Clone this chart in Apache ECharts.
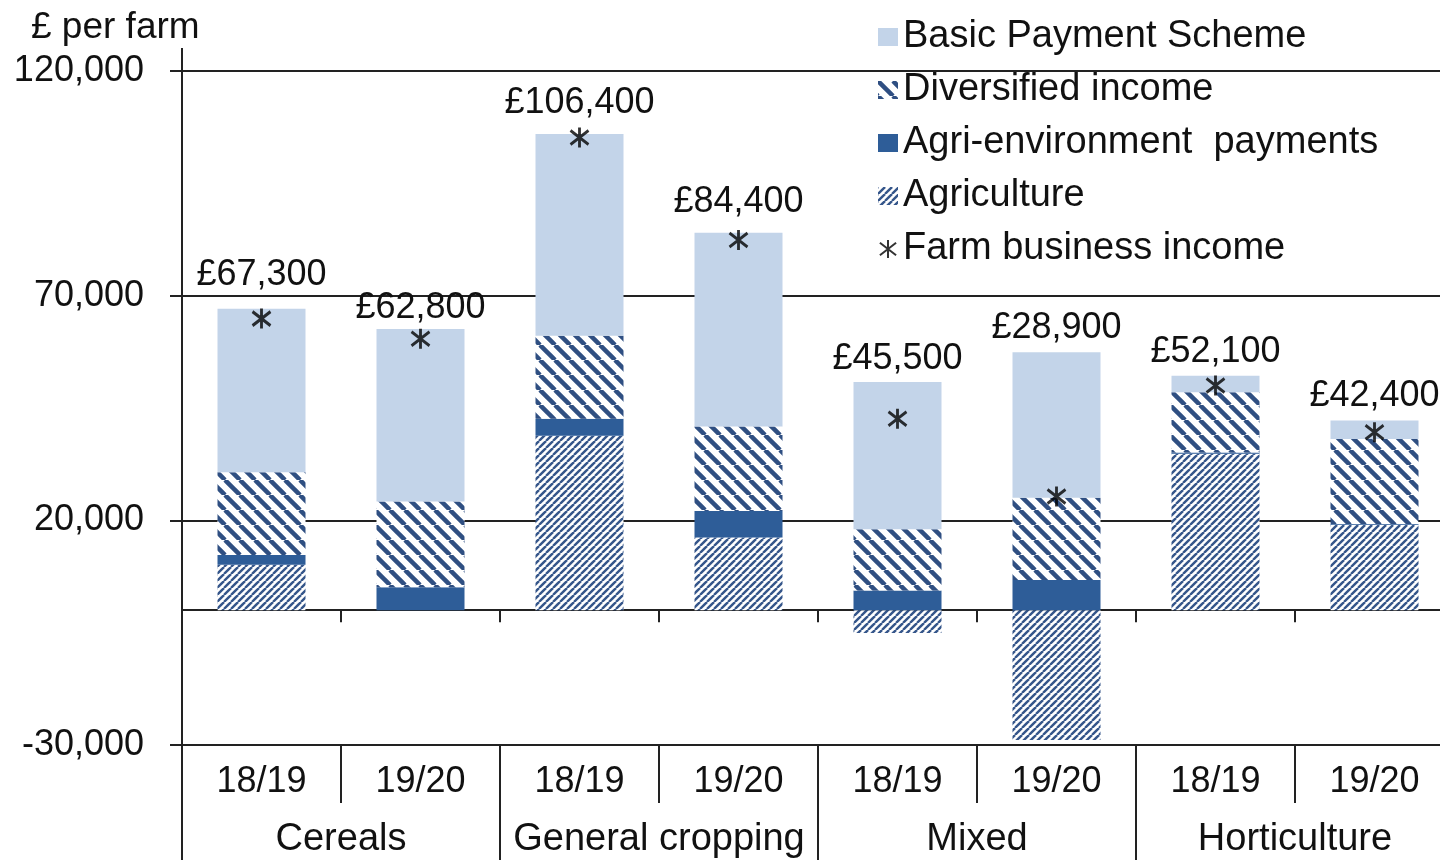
<!DOCTYPE html>
<html>
<head>
<meta charset="utf-8">
<title>Farm business income per farm</title>
<script src="https://cdn.jsdelivr.net/npm/echarts@6/dist/echarts.min.js"></script>
<style>
  html, body { margin: 0; padding: 0; background: #fff; }
  #chart { width: 1440px; height: 860px; }
</style>
</head>
<body>
<div id="chart"></div>
<script>
var years = ['18/19', '19/20', '18/19', '19/20', '18/19', '19/20', '18/19', '19/20'];
var farmTypes = ['Cereals', 'General cropping', 'Mixed', 'Horticulture'];

// £ per farm
var agriculture = [10100, 0, 38800, 16200, -5100, -28900, 34800, 19000];
var agriEnvironment = [2200, 5100, 3800, 5900, 4400, 6700, 300, 200];
var diversified = [18400, 19100, 18500, 18800, 13600, 18300, 13400, 18900];
var basicPayment = [36400, 38400, 44900, 43100, 32800, 32400, 3700, 4100];
var fbiPoints = [64900, 60400, 105200, 82400, 42600, 25300, 50000, 39600];
var fbiLabels = ['£67,300', '£62,800', '£106,400', '£84,400', '£45,500', '£28,900', '£52,100', '£42,400'];

// gap between bar top and its label (px)
var labelLift = [16, 3, 13, 13, 5, 6, 6, 7];

var FONT = '"Liberation Sans", Arial, sans-serif';
var INK = '#111111';

// diagonal stripe tile: 'back' = \\\ , otherwise ///
function stripes(size, width, color, dir) {
  var c = document.createElement('canvas');
  c.width = size;
  c.height = size;
  var ctx = c.getContext('2d');
  ctx.fillStyle = '#ffffff';
  ctx.fillRect(0, 0, size, size);
  ctx.strokeStyle = color;
  ctx.lineWidth = width;
  for (var k = -1; k <= 1; k++) {
    ctx.beginPath();
    if (dir === 'back') {
      ctx.moveTo(k * size, 0);
      ctx.lineTo(k * size + size, size);
    } else {
      ctx.moveTo(k * size, size);
      ctx.lineTo(k * size + size, 0);
    }
    ctx.stroke();
  }
  return c;
}

var wideStripe = stripes(15, 4.5, '#2f4f82', 'back');
var fineHatch = stripes(7, 2.4, '#34558a', 'fwd');

var chart = echarts.init(document.getElementById('chart'));

var axisInk = { color: '#222', width: 2 };

var option = {
  animation: false,
  backgroundColor: '#ffffff',
  textStyle: { fontFamily: FONT, color: INK },
  title: {
    text: '£ per farm',
    left: 26,
    top: 4,
    textStyle: { fontFamily: FONT, fontSize: 37, fontWeight: 'normal', color: INK }
  },
  legend: {
    orient: 'vertical',
    left: 873,
    top: 13,
    itemWidth: 20,
    itemHeight: 18,
    itemGap: 15,
    textStyle: { fontFamily: FONT, fontSize: 38, color: INK },
    data: [
      { name: 'Basic Payment Scheme', icon: 'rect' },
      { name: 'Diversified income', icon: 'rect' },
      { name: 'Agri-environment  payments', icon: 'rect' },
      { name: 'Agriculture', icon: 'rect' },
      { name: 'Farm business income' }
    ]
  },
  grid: {
    left: 182,
    right: -14,
    top: 71,
    bottom: 115,
    containLabel: false,
    outerBoundsMode: 'none'
  },
  xAxis: [
    {
      type: 'category',
      data: years,
      position: 'bottom',
      axisLine: { onZero: true, lineStyle: axisInk },
      axisTick: { show: true, interval: 0, length: 12, lineStyle: axisInk },
      axisLabel: { show: false },
      splitLine: { show: false }
    },
    {
      type: 'category',
      data: years,
      position: 'bottom',
      axisLine: { show: false, onZero: false },
      axisTick: { show: true, interval: 0, length: 58, lineStyle: axisInk },
      axisLabel: { interval: 0, margin: 19, fontSize: 36, color: INK, fontFamily: FONT },
      splitLine: { show: false }
    },
    {
      type: 'category',
      data: farmTypes,
      position: 'bottom',
      axisLine: { show: false, onZero: false },
      axisTick: { show: true, interval: 0, length: 116, lineStyle: axisInk },
      axisLabel: { interval: 0, margin: 76, fontSize: 38, color: INK, fontFamily: FONT },
      splitLine: { show: false }
    }
  ],
  yAxis: {
    type: 'value',
    min: -30000,
    max: 120000,
    interval: 50000,
    axisLine: { show: true, lineStyle: axisInk },
    axisTick: { show: true, length: 12, lineStyle: axisInk },
    axisLabel: {
      margin: 38,
      fontSize: 36,
      color: INK,
      fontFamily: FONT,
      formatter: function (v) { return v.toLocaleString('en-GB'); }
    },
    splitLine: { show: true, lineStyle: axisInk }
  },
  graphic: [
    {
      type: 'line',
      shape: { x1: 182, y1: 48, x2: 182, y2: 71 },
      style: { stroke: '#222', lineWidth: 2 }
    }
  ],
  series: [
    {
      name: 'Agriculture',
      type: 'bar',
      stack: 'fbi',
      barWidth: 88,
      data: agriculture,
      itemStyle: { color: { image: fineHatch, repeat: 'repeat' } }
    },
    {
      name: 'Agri-environment  payments',
      type: 'bar',
      stack: 'fbi',
      barWidth: 88,
      data: agriEnvironment,
      itemStyle: { color: '#2e5d98' }
    },
    {
      name: 'Diversified income',
      type: 'bar',
      stack: 'fbi',
      barWidth: 88,
      data: diversified,
      itemStyle: { color: { image: wideStripe, repeat: 'repeat' } }
    },
    {
      name: 'Basic Payment Scheme',
      type: 'bar',
      stack: 'fbi',
      barWidth: 88,
      data: basicPayment.map(function (v, i) {
        return { value: v, label: { distance: labelLift[i] } };
      }),
      itemStyle: { color: '#c3d4e9' },
      label: {
        show: true,
        position: 'top',
        fontSize: 36,
        color: INK,
        fontFamily: FONT,
        formatter: function (p) { return fbiLabels[p.dataIndex]; }
      }
    },
    {
      name: 'Farm business income',
      type: 'scatter',
      data: fbiPoints,
      symbol: 'path://M1,3L19,17M19,3L1,17M10,0L10,20',
      symbolSize: [18, 20],
      itemStyle: { color: '#000', borderColor: '#000', borderWidth: 3 },
      z: 5
    }
  ]
};

chart.setOption(option);
</script>
</body>
</html>
